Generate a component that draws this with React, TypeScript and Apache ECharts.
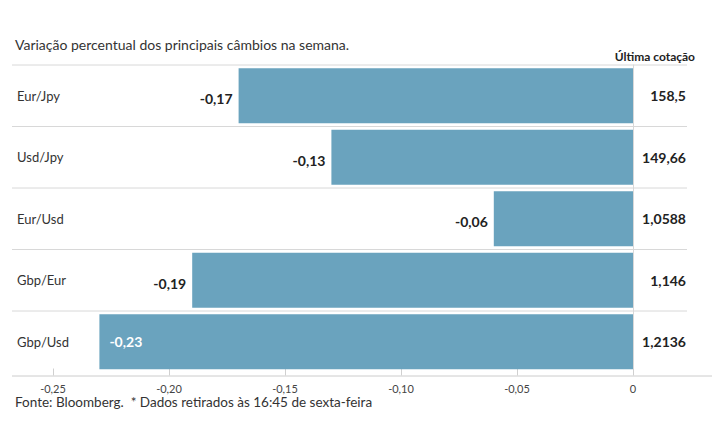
import React, { useEffect, useRef } from "react";
import * as echarts from "echarts";

const categories = ["Eur/Jpy", "Usd/Jpy", "Eur/Usd", "Gbp/Eur", "Gbp/Usd"];
const changes = [-0.17, -0.13, -0.06, -0.19, -0.23];
const quotes = ["158,5", "149,66", "1,0588", "1,146", "1,2136"];
const xTicks = [-0.25, -0.2, -0.15, -0.1, -0.05, 0];

const FONT = "Lato, 'Noto Sans', sans-serif";
const BAR = "#6aa3be";

export default function App() {
  const ref = useRef<HTMLDivElement>(null);
  useEffect(() => {
    document.body.style.margin = "0";
    if (!ref.current) return;
    const chart = echarts.init(ref.current, undefined, { renderer: "svg" });
    const top = 65;
    const band = 61.5;
    const fmt = (v: number) => (v === 0 ? "0" : v.toFixed(2).replace(".", ","));
    const seps = categories.map((_, i) => ({
      type: "line",
      shape: { x1: 12, y1: top + i * band, x2: 687, y2: top + i * band },
      style: { stroke: "#d8d8d8", lineWidth: 1 },
      z: 0,
    }));
    chart.setOption({
      animation: false,
      textStyle: { fontFamily: FONT },
      grid: { left: 53, right: 82, top: top, height: band * categories.length },
      xAxis: {
        type: "value",
        min: xTicks[0],
        max: xTicks[xTicks.length - 1],
        interval: 0.05,
        offset: 3,
        axisLine: { show: false },
        axisTick: { show: true, inside: true, length: 7, lineStyle: { color: "#d0d0d0" } },
        splitLine: { show: false },
        axisLabel: {
          color: "#444",
          fontSize: 11,
          fontFamily: FONT,
          margin: 7,
          formatter: (v: number) => fmt(v),
        },
      },
      yAxis: [
        {
          type: "category",
          inverse: true,
          data: categories,
          position: "left",
          axisLine: { show: false, onZero: false },
          axisTick: { show: false },
          splitLine: { show: false },
          axisLabel: {
            align: "left",
            margin: 36,
            color: "#333",
            fontSize: 13,
            fontFamily: FONT,
            padding: [0, 0, 2, 0],
          },
        },
        {
          type: "category",
          inverse: true,
          data: quotes,
          position: "right",
          axisLine: { show: true, onZero: false, lineStyle: { color: "#d8d8d8" } },
          axisTick: { show: false },
          splitLine: { show: false },
          axisLabel: {
            align: "right",
            margin: 53,
            color: "#222",
            fontSize: 14,
            fontWeight: "bold",
            fontFamily: FONT,
          },
        },
      ],
      series: [
        {
          type: "bar",
          yAxisIndex: 0,
          barWidth: 55,
          data: changes.map((v, i) =>
            i === changes.length - 1
              ? {
                  value: v,
                  label: { position: "insideLeft", color: "#fff", distance: 10, offset: [0, 0] },
                }
              : v
          ),
          itemStyle: { color: BAR },
          label: {
            show: true,
            position: "left",
            distance: 6,
            offset: [0, 3],
            color: "#222",
            fontSize: 14,
            fontWeight: "bold",
            fontFamily: FONT,
            formatter: (p: any) => fmt(p.value),
          },
          z: 2,
        },
      ],
      graphic: [
        ...seps,
        {
          type: "line",
          shape: { x1: 12, y1: 376, x2: 712, y2: 376 },
          style: { stroke: "#cccccc", lineWidth: 1 },
        },
        {
          type: "text",
          left: 15,
          top: 37,
          style: {
            text: "Variação percentual dos principais câmbios na semana.",
            fill: "#333",
            fontSize: 14,
            fontFamily: FONT,
          },
        },
        {
          type: "text",
          right: 20,
          top: 50,
          style: {
            text: "Última cotação",
            fill: "#222",
            fontSize: 12,
            fontWeight: "bold",
            fontFamily: FONT,
          },
        },
        {
          type: "text",
          left: 15,
          top: 395,
          style: {
            text: "Fonte: Bloomberg.  * Dados retirados às 16:45 de sexta-feira",
            fill: "#333",
            fontSize: 13.5,
            fontFamily: FONT,
          },
        },
      ],
    });
    return () => chart.dispose();
  }, []);
  return <div ref={ref} style={{ width: 715, height: 445 }} />;
}
